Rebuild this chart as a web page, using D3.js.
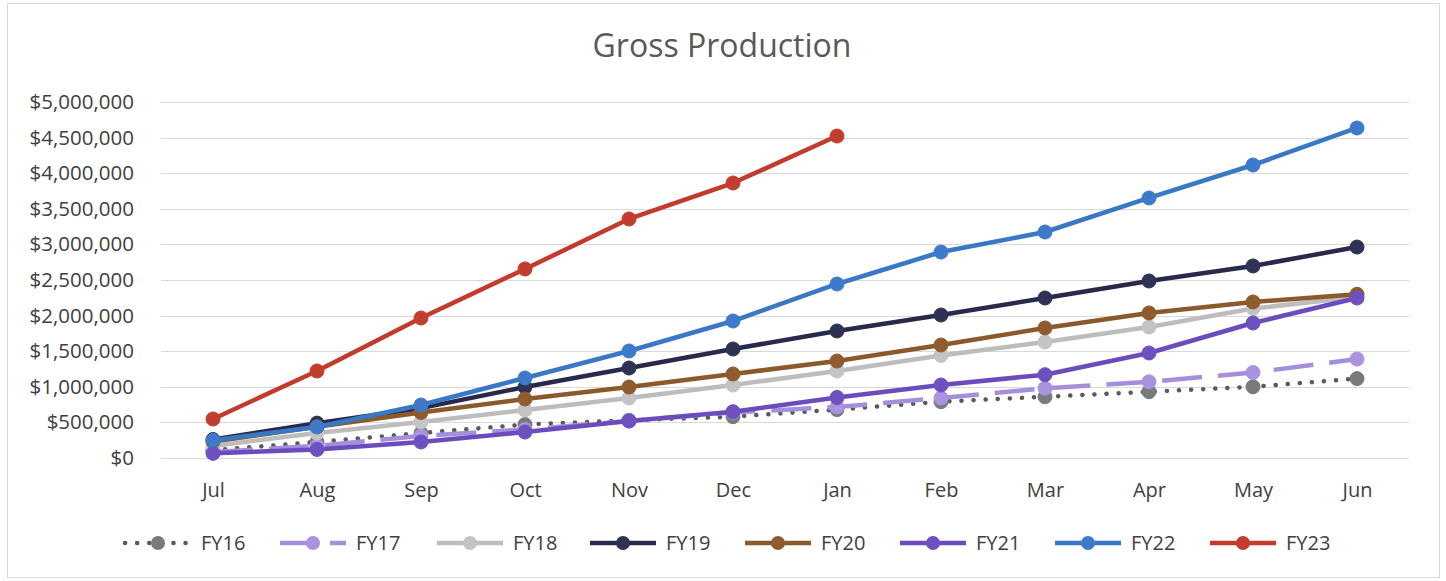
<!DOCTYPE html>
<html><head><meta charset="utf-8">
<script src="https://cdn.jsdelivr.net/npm/d3@7"></script>
<style>
html,body{margin:0;padding:0;background:#fff;}
svg{display:block;}
text{font-family:"Open Sans","Noto Sans",sans-serif;}
</style></head>
<body><svg id="c" width="1446" height="581"></svg>
<script>
const months = ["Jul","Aug","Sep","Oct","Nov","Dec","Jan","Feb","Mar","Apr","May","Jun"];
const yTicks = [0,500000,1000000,1500000,2000000,2500000,3000000,3500000,4000000,4500000,5000000];
const seriesNames = ["FY16","FY17","FY18","FY19","FY20","FY21","FY22","FY23"];
const fy16 = [110000,225000,350000,470000,530000,580000,680000,790000,860000,930000,1000000,1115000];
const fy17 = [85000,170000,310000,400000,520000,640000,716000,843000,980000,1070000,1200000,1390000];
const fy18 = [170000,350000,506000,674000,843000,1025000,1222000,1440000,1629000,1840000,2100000,2260000];
const fy19 = [260000,490000,700000,997000,1264000,1531000,1784000,2008000,2247000,2486000,2697000,2963000];
const fy20 = [230000,440000,640000,829000,997000,1180000,1362000,1587000,1826000,2037000,2191000,2300000];
const fy21 = [65000,120000,225000,365000,520000,650000,850000,1025000,1170000,1475000,1896000,2247000];
const fy22 = [250000,435000,744000,1124000,1503000,1924000,2444000,2893000,3174000,3652000,4115000,4635000];
const fy23 = [548000,1222000,1966000,2655000,3357000,3862000,4522000];
const seriesValues = [fy16,fy17,fy18,fy19,fy20,fy21,fy22,fy23];

const lineColors = ["#5a5a5a","#a58fdc","#bdbdbd","#272a4c","#8b5a2b","#6a4cbc","#3a78c6","#c23b2c"];
const markerColors = ["#7a7a7a","#a993e0","#c4c4c4","#2e3254","#8e5c2e","#6e50c0","#3d7bca","#c33d2e"];
const dashes = ["0.1 12","40 16",null,null,null,null,null,null];
const legDashes = ["0.1 12","30 20",null,null,null,null,null,null];

const svg = d3.select("#c");
svg.append("rect").attr("x",7.5).attr("y",3.5).attr("width",1432).attr("height",574)
  .attr("fill","none").attr("stroke","#d9d9d9").attr("stroke-width",1);

svg.append("text").attr("x",722).attr("y",57).attr("text-anchor","middle")
  .attr("font-size",32).attr("fill","#595959").text("Gross Production");

const x = d3.scalePoint().domain(months).range([213,1357]);
const step = x.step();
const y = d3.scaleLinear().domain([0,5000000]).range([458,102]);

const gx0 = x(months[0]) - step/2, gx1 = x(months[months.length-1]) + step/2;
svg.append("g").selectAll("line").data(yTicks).join("line")
  .attr("x1",gx0).attr("x2",gx1).attr("y1",d=>Math.round(y(d))+0.5).attr("y2",d=>Math.round(y(d))+0.5)
  .attr("stroke","#d9d9d9").attr("stroke-width",1);

const yAxis = d3.axisLeft(y).tickValues(yTicks).tickSize(0).tickPadding(0)
  .tickFormat(d=>"$"+d3.format(",")(d));
const ya = svg.append("g").attr("transform","translate(134,0)").call(yAxis);
ya.select(".domain").remove();
ya.selectAll("text").attr("font-size",20.5).attr("fill","#404040").attr("font-family","Open Sans, sans-serif");

const xAxis = d3.axisBottom(x).tickSize(0).tickPadding(0);
const xa = svg.append("g").attr("transform","translate(0,483)").call(xAxis);
xa.select(".domain").remove();
xa.selectAll("text").attr("font-size",20).attr("fill","#404040").attr("font-family","Open Sans, sans-serif");

const line = d3.line().x((d,i)=>x(months[i])).y(d=>y(d));

seriesValues.forEach((vals,k)=>{
  const g = svg.append("g");
  g.append("path").datum(vals).attr("d",line).attr("fill","none")
    .attr("stroke",lineColors[k]).attr("stroke-width",4.5)
    .attr("stroke-linecap",k===0?"round":"butt").attr("stroke-linejoin","round")
    .attr("stroke-dasharray",dashes[k]);
  g.selectAll("circle").data(vals).join("circle")
    .attr("cx",(d,i)=>x(months[i])).attr("cy",d=>y(d)).attr("r",7)
    .attr("fill",markerColors[k]).attr("stroke",markerColors[k]).attr("stroke-width",1);
});

const lg = svg.append("g");
const legX = [125,280,437,590,745,900,1055,1210];
const legY = 543;
seriesNames.forEach((n,k)=>{
  const lx = legX[k];
  lg.append("line").attr("x1",lx).attr("x2",lx+66).attr("y1",legY).attr("y2",legY)
    .attr("stroke",lineColors[k]).attr("stroke-width",4.5)
    .attr("stroke-linecap",k===0?"round":"butt").attr("stroke-dasharray",legDashes[k]);
  lg.append("circle").attr("cx",lx+33).attr("cy",legY).attr("r",7).attr("fill",markerColors[k]);
  lg.append("text").attr("x",lx+76).attr("y",legY+7).attr("font-size",20).attr("fill","#404040").text(n);
});
</script></body></html>
